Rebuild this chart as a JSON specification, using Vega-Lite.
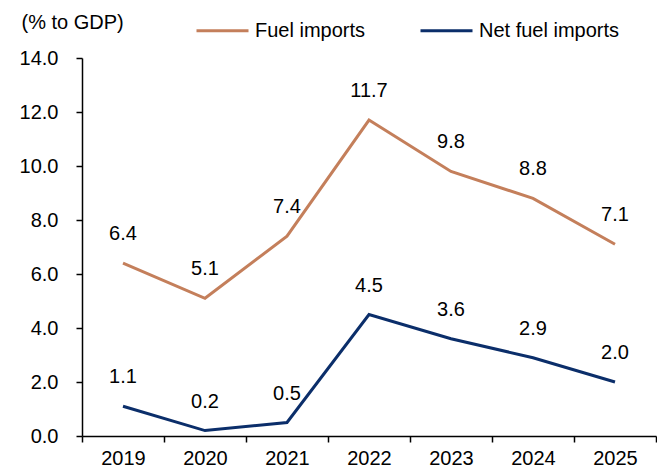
{
  "$schema": "https://vega.github.io/schema/vega-lite/v6.json",
  "autosize": {"type": "none"},
  "width": 574,
  "height": 378,
  "padding": {"left": 82, "top": 58, "right": 1, "bottom": 37},
  "background": "white",
  "config": {
    "view": {"stroke": null},
    "font": "Liberation Sans",
    "text": {"font": "Liberation Sans"}
  },
  "data": {
    "values": [
      {"year": "2019", "series": "Fuel imports", "value": 6.4},
      {"year": "2020", "series": "Fuel imports", "value": 5.1},
      {"year": "2021", "series": "Fuel imports", "value": 7.4},
      {"year": "2022", "series": "Fuel imports", "value": 11.7},
      {"year": "2023", "series": "Fuel imports", "value": 9.8},
      {"year": "2024", "series": "Fuel imports", "value": 8.8},
      {"year": "2025", "series": "Fuel imports", "value": 7.1},
      {"year": "2019", "series": "Net fuel imports", "value": 1.1},
      {"year": "2020", "series": "Net fuel imports", "value": 0.2},
      {"year": "2021", "series": "Net fuel imports", "value": 0.5},
      {"year": "2022", "series": "Net fuel imports", "value": 4.5},
      {"year": "2023", "series": "Net fuel imports", "value": 3.6},
      {"year": "2024", "series": "Net fuel imports", "value": 2.9},
      {"year": "2025", "series": "Net fuel imports", "value": 2.0}
    ]
  },
  "encoding": {
    "x": {
      "field": "year",
      "type": "ordinal",
      "scale": {"type": "band", "paddingInner": 0, "paddingOuter": 0},
      "axis": {
        "title": null,
        "labelAngle": 0,
        "tickBand": "extent",
        "tickSize": 6,
        "tickColor": "black",
        "tickWidth": 1.5,
        "domainColor": "black",
        "domainWidth": 1.5,
        "labelFontSize": 20,
        "labelColor": "black",
        "labelPadding": 6,
        "labelFont": "Liberation Sans"
      }
    },
    "y": {
      "field": "value",
      "type": "quantitative",
      "scale": {"domain": [0, 14], "nice": false},
      "axis": {
        "values": [0, 2, 4, 6, 8, 10, 12, 14],
        "format": ".1f",
        "grid": false,
        "tickSize": 6,
        "tickColor": "black",
        "tickWidth": 1.5,
        "domainColor": "black",
        "domainWidth": 1.5,
        "labelFontSize": 20,
        "labelColor": "black",
        "labelPadding": 18,
        "labelFont": "Liberation Sans",
        "title": "(% to GDP)",
        "titleAngle": 0,
        "titleAlign": "left",
        "titleBaseline": "middle",
        "titleX": -61,
        "titleY": -36,
        "titleFontSize": 20,
        "titleFontWeight": "normal",
        "titleFont": "Liberation Sans",
        "titleColor": "black"
      }
    }
  },
  "layer": [
    {
      "mark": {"type": "line", "strokeWidth": 3},
      "encoding": {
        "color": {
          "field": "series",
          "type": "nominal",
          "scale": {"domain": ["Fuel imports", "Net fuel imports"], "range": ["#C47F5B", "#0B2E6A"]},
          "legend": {
            "title": null,
            "orient": "none",
            "direction": "horizontal",
            "legendX": 113,
            "legendY": -55,
            "symbolType": "stroke",
            "symbolSize": 2704,
            "symbolStrokeWidth": 3,
            "labelFontSize": 20,
            "labelColor": "black",
            "labelFont": "Liberation Sans",
            "labelOffset": 5,
            "columnPadding": 48
          }
        }
      }
    },
    {
      "mark": {"type": "text", "dy": -29, "fontSize": 20, "color": "black", "baseline": "middle"},
      "encoding": {
        "text": {"field": "value", "type": "quantitative", "format": ".1f"},
        "detail": {"field": "series"}
      }
    }
  ]
}
